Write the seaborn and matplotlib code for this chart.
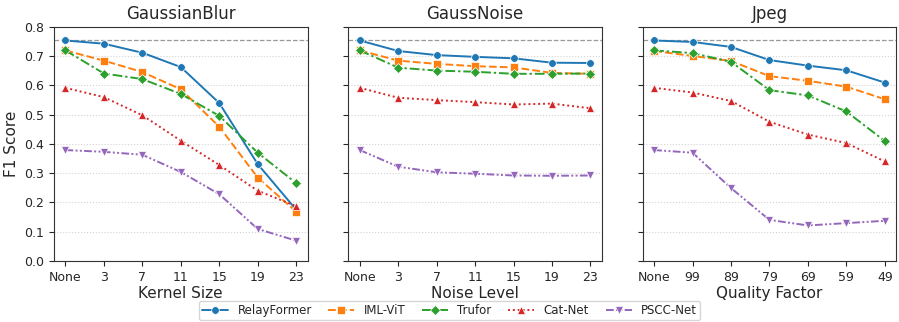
import matplotlib
matplotlib.use("Agg")
import matplotlib.pyplot as plt
import seaborn as sns
import pandas as pd

# models and x labels
models = ["RelayFormer", "IML-ViT", "Trufor", "Cat-Net", "PSCC-Net"]
blur_labels = ["None", "3", "7", "11", "15", "19", "23"]
noise_labels = ["None", "3", "7", "11", "15", "19", "23"]
jpeg_labels = ["None", "99", "89", "79", "69", "59", "49"]

# F1 scores
blur_relay = [0.754, 0.743, 0.712, 0.663, 0.540, 0.331, 0.175]
blur_iml = [0.720, 0.685, 0.646, 0.587, 0.459, 0.285, 0.168]
blur_trufor = [0.720, 0.641, 0.622, 0.571, 0.496, 0.370, 0.266]
blur_catnet = [0.592, 0.560, 0.498, 0.411, 0.328, 0.240, 0.187]
blur_pscc = [0.379, 0.373, 0.363, 0.304, 0.228, 0.109, 0.069]

noise_relay = [0.754, 0.718, 0.704, 0.698, 0.693, 0.678, 0.677]
noise_iml = [0.720, 0.685, 0.674, 0.666, 0.662, 0.643, 0.640]
noise_trufor = [0.720, 0.661, 0.651, 0.647, 0.640, 0.640, 0.641]
noise_catnet = [0.592, 0.558, 0.550, 0.543, 0.535, 0.538, 0.522]
noise_pscc = [0.379, 0.322, 0.303, 0.298, 0.292, 0.291, 0.292]

jpeg_relay = [0.754, 0.749, 0.732, 0.687, 0.668, 0.652, 0.610]
jpeg_iml = [0.718, 0.701, 0.684, 0.632, 0.616, 0.596, 0.553]
jpeg_trufor = [0.720, 0.711, 0.681, 0.584, 0.566, 0.511, 0.410]
jpeg_catnet = [0.592, 0.576, 0.547, 0.476, 0.432, 0.403, 0.340]
jpeg_pscc = [0.379, 0.370, 0.249, 0.140, 0.121, 0.129, 0.137]

baseline = 0.754

panels = [
    ("GaussianBlur", "Kernel Size", blur_labels,
     [blur_relay, blur_iml, blur_trufor, blur_catnet, blur_pscc]),
    ("GaussNoise", "Noise Level", noise_labels,
     [noise_relay, noise_iml, noise_trufor, noise_catnet, noise_pscc]),
    ("Jpeg", "Quality Factor", jpeg_labels,
     [jpeg_relay, jpeg_iml, jpeg_trufor, jpeg_catnet, jpeg_pscc]),
]

colors = ["#1f77b4", "#ff7f0e", "#2ca02c", "#d62728", "#9467bd"]
markers = ["o", "s", "D", "^", "v"]
dashes = ["", (4, 1.6), (5, 1.5, 1.2, 1.5), (1, 1.5), (4, 1.2, 1, 1.2, 1, 1.2)]

sns.set_style("ticks")
fig, axes = plt.subplots(1, 3, figsize=(8.99, 3.22), dpi=100, sharey=True)
fig.subplots_adjust(left=0.06, right=0.997, top=0.916, bottom=0.19, wspace=0.16)

for ax, (title, xlabel, labels, series) in zip(axes, panels):
    rows = []
    for m, vals in zip(models, series):
        for i, v in enumerate(vals):
            rows.append({"pos": i, "F1": v, "model": m})
    df = pd.DataFrame(rows)
    ax.axhline(baseline, color="gray", linestyle="--", linewidth=0.9, alpha=0.8, zorder=0)
    sns.lineplot(data=df, x="pos", y="F1", hue="model", style="model",
                 hue_order=models, style_order=models,
                 palette=colors, markers=markers, dashes=dashes,
                 markersize=5.5, linewidth=1.4, markeredgecolor="white",
                 markeredgewidth=0.5, ax=ax, legend=(ax is axes[0]))
    ax.set_xticks(range(len(labels)))
    ax.set_xticklabels(labels, fontsize=9)
    ax.tick_params(axis="y", labelsize=9)
    ax.set_title(title, fontsize=12)
    ax.set_xlabel(xlabel, fontsize=11, labelpad=2)
    ax.set_ylabel("")
    ax.set_ylim(0, 0.8)
    ax.yaxis.grid(True, linestyle=":", color="lightgray", linewidth=0.8)
    for s in ax.spines.values():
        s.set_color("#333333")

axes[0].set_ylabel("F1 Score", fontsize=11)
handles, lbls = axes[0].get_legend_handles_labels()
axes[0].get_legend().remove()
fig.legend(handles, lbls, loc="lower center", bbox_to_anchor=(0.5, -0.012),
           ncol=5, fontsize=8.5, frameon=True, handlelength=2.2,
           columnspacing=1.4, borderpad=0.25, handletextpad=0.8)

fig.savefig("out.png", dpi=100)
